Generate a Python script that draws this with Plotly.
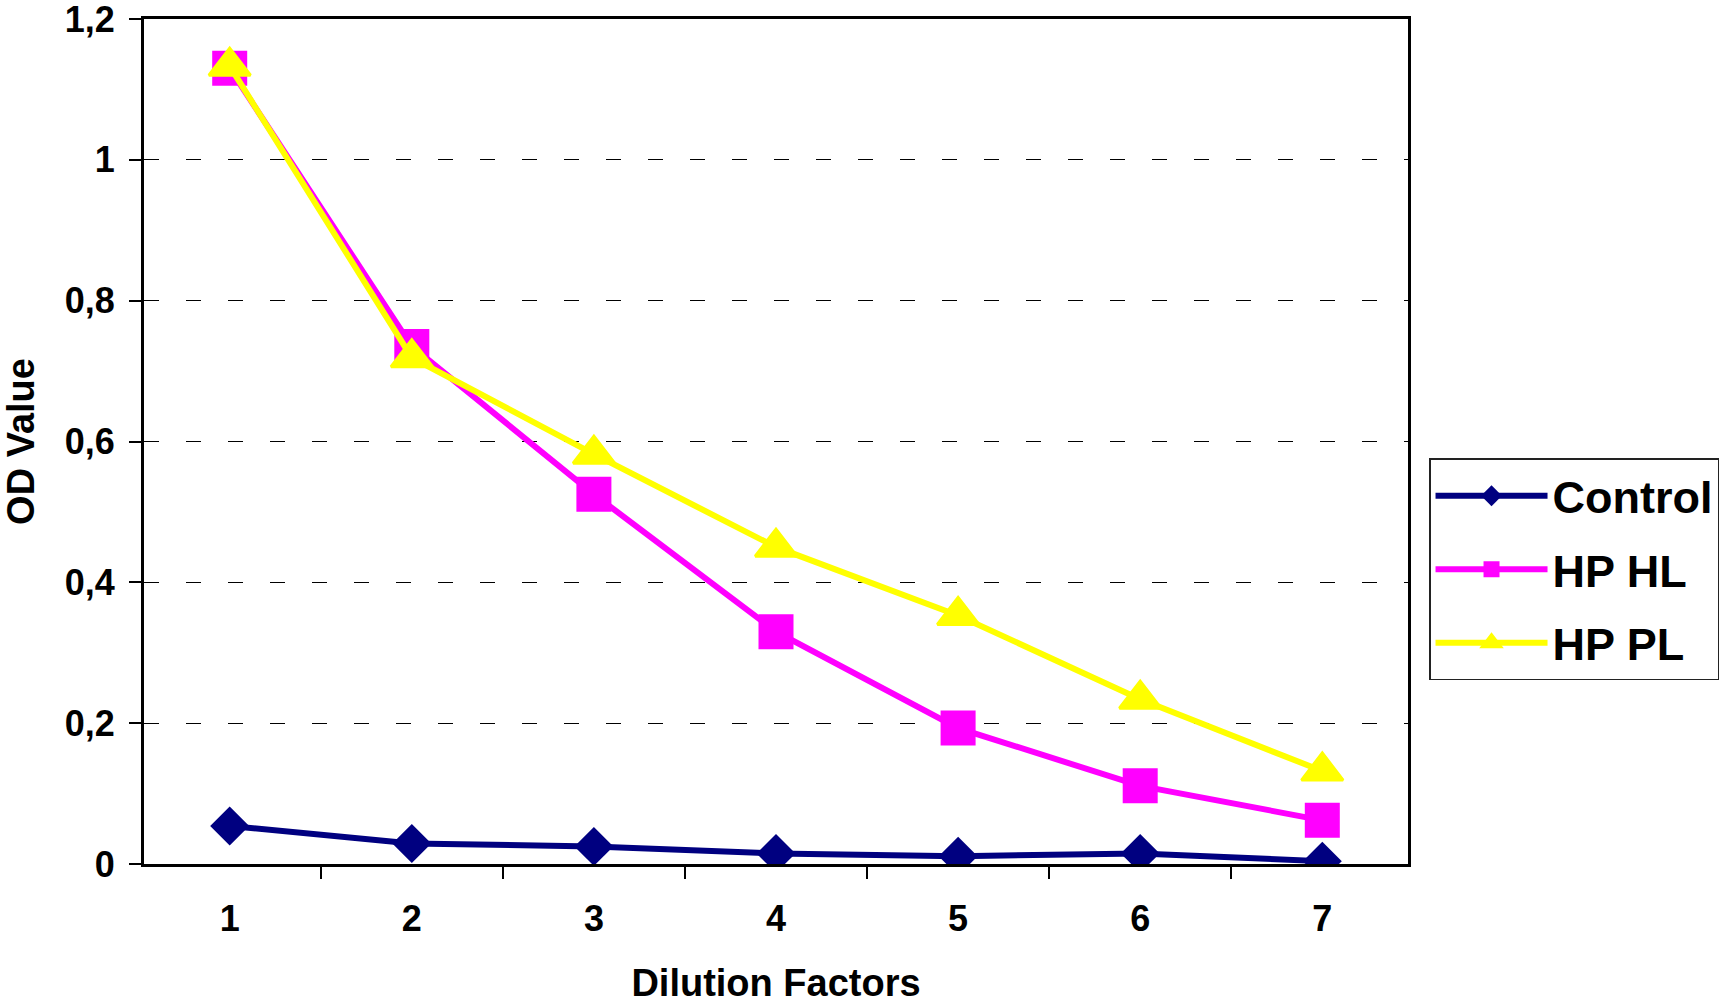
import plotly.graph_objects as go

# Dilution steps and optical density readings
dilution = ["1", "2", "3", "4", "5", "6", "7"]
control = [0.054, 0.029, 0.025, 0.015, 0.011, 0.015, 0.004]
hp_hl = [1.130, 0.735, 0.525, 0.330, 0.193, 0.111, 0.062]
hp_pl = [1.133, 0.719, 0.582, 0.450, 0.353, 0.234, 0.132]

y_ticks = [0, 0.2, 0.4, 0.6, 0.8, 1.0, 1.2]

FONT = "Liberation Sans, Arial, sans-serif"

fig = go.Figure()
fig.add_trace(go.Scatter(
    x=dilution, y=control, name="Control", mode="lines+markers",
    legendgroup="a",
    line=dict(color="#000080", width=6),
    marker=dict(symbol="diamond", size=30, color="#000080"),
))
fig.add_trace(go.Scatter(
    x=dilution, y=hp_hl, name="HP HL", mode="lines+markers",
    legendgroup="b",
    line=dict(color="#FF00FF", width=6),
    marker=dict(symbol="square", size=35, color="#FF00FF"),
))
fig.add_trace(go.Scatter(
    x=dilution, y=hp_pl, name="HP PL", mode="lines+markers",
    legendgroup="c",
    line=dict(color="#FFFF00", width=6),
    marker=dict(symbol="triangle-up", size=36, color="#FFFF00",
                line=dict(color="#FFFF00", width=3)),
))

fig.update_layout(
    width=1724, height=1005,
    margin=dict(l=144, r=316, t=19, b=141),
    paper_bgcolor="white", plot_bgcolor="white",
    separators=", ",
    font=dict(family=FONT, size=36, color="black", weight="bold"),
    showlegend=True,
    legend=dict(
        xref="container", yref="container",
        x=0.8289, y=0.5438, xanchor="left", yanchor="top",
        bgcolor="white", bordercolor="#222222", borderwidth=1.5,
        font=dict(family=FONT, size=45, color="black", weight="bold"),
        itemwidth=112, tracegroupgap=12,
    ),
    xaxis=dict(
        type="category", automargin=False,
        tickson="boundaries",
        ticks="outside", ticklen=12, tickwidth=1.5, tickcolor="black",
        showline=True, linewidth=3, linecolor="black", mirror=True,
        showgrid=False, zeroline=False,
        ticklabelstandoff=21,
        title=dict(text="Dilution Factors", font=dict(size=38), standoff=32),
    ),
    yaxis=dict(
        range=[0, 1.2], tickvals=y_ticks, automargin=False,
        ticklabeloverflow="allow",
        ticks="outside", ticklen=12, tickwidth=1.5, tickcolor="black",
        showline=True, linewidth=3, linecolor="black", mirror=True,
        showgrid=True, gridcolor="black", gridwidth=1.2, griddash="15px,27px",
        zeroline=False,
        ticklabelstandoff=7,
        title=dict(text="OD Value", font=dict(size=38), standoff=26),
    ),
)

fig.write_html("out.html")
